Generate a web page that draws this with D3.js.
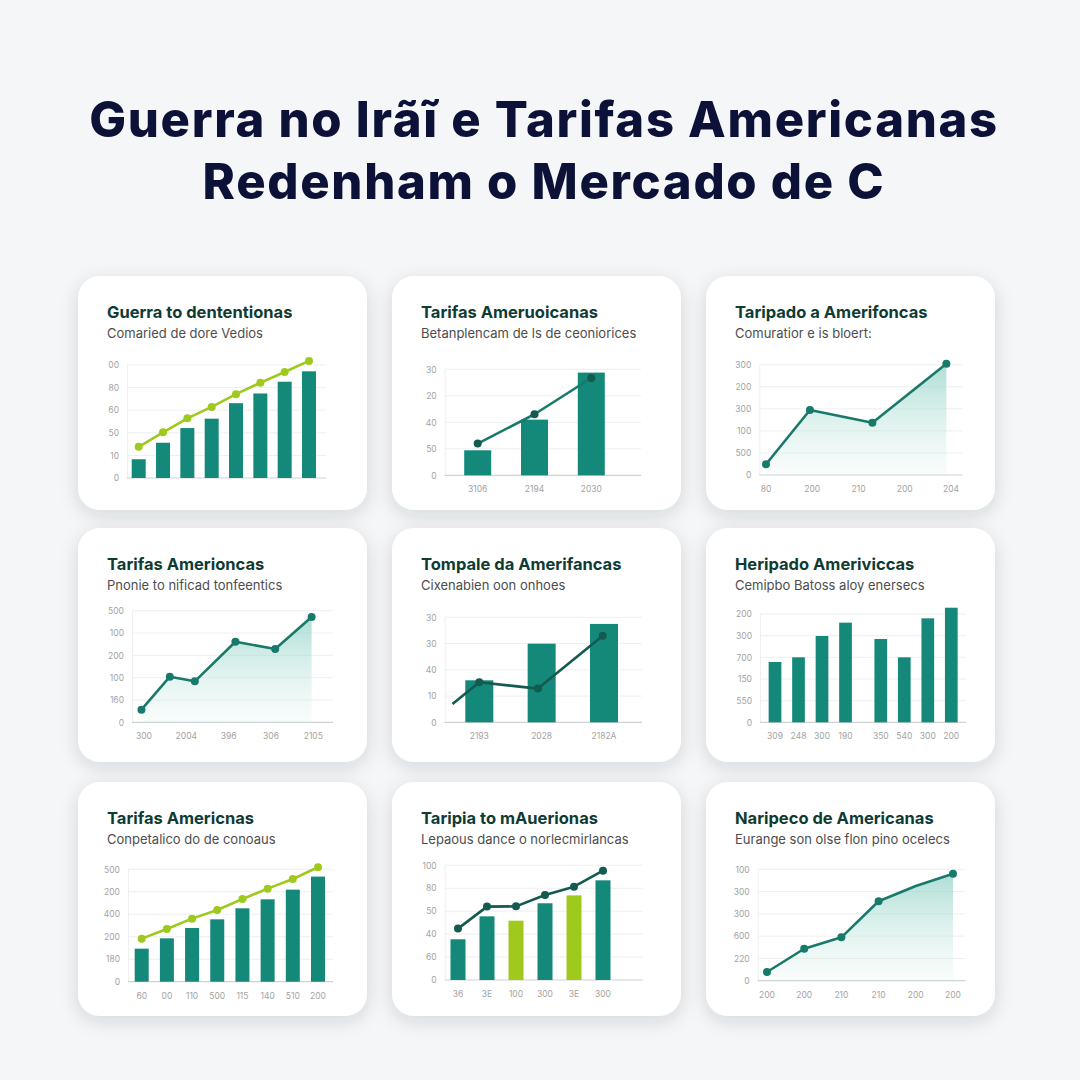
<!DOCTYPE html>
<html>
<head>
<meta charset="utf-8">
<script src="https://cdn.jsdelivr.net/npm/d3@7"></script>
<style>
  html, body { margin: 0; padding: 0; background: #f5f6f8; }
  svg { display: block; }
</style>
</head>
<body>
<div class="canvas"></div>
<script>
// ---- text ----
const titleLines = ['Guerra no Irãĩ e Tarifas Americanas', 'Redenham o Mercado de C'];

const panelTitles = [
  'Guerra to dententionas', 'Tarifas Ameruoicanas', 'Taripado a Amerifoncas',
  'Tarifas Amerioncas', 'Tompale da Amerifancas', 'Heripado Ameriviccas',
  'Tarifas Americnas', 'Taripia to mAuerionas', 'Naripeco de Americanas',
];
const panelSubtitles = [
  'Comaried de dore Vedios', 'Betanplencam de ls de ceoniorices', 'Comuratior e is bloert:',
  'Pnonie to nificad tonfeentics', 'Cixenabien oon onhoes', 'Cemipbo Batoss aloy enersecs',
  'Conpetalico do de conoaus', 'Lepaous dance o norlecmirlancas', 'Eurange son olse flon pino ocelecs',
];

// y tick labels, bottom -> top
const yTickLabels = [
  ['0', '10', '50', '60', '80', '00'],
  ['0', '50', '40', '20', '30'],
  ['0', '500', '100', '300', '200', '300'],
  ['0', '160', '100', '200', '100', '500'],
  ['0', '10', '40', '30', '30'],
  ['0', '550', '150', '700', '300', '200'],
  ['0', '180', '200', '400', '200', '500'],
  ['0', '60', '40', '50', '80', '100'],
  ['0', '220', '600', '300', '300', '100'],
];

const xTickLabels = [
  [],
  ['3106', '2194', '2030'],
  ['80', '200', '210', '200', '204'],
  ['300', '2004', '396', '306', '2105'],
  ['2193', '2028', '2182A'],
  ['309', '248', '300', '190', '350', '540', '300', '200'],
  ['60', '00', '110', '500', '115', '140', '510', '200'],
  ['36', '3E', '100', '300', '3E', '300'],
  ['200', '200', '210', '210', '200', '200'],
];

// ---- values ----
const p1Bars = [16.6, 31.2, 44.2, 52.5, 66.2, 74.8, 85.2, 94.4];
const p1Line = [27.6, 40.4, 52.8, 62.9, 74.2, 84.3, 93.8, 103.6];

const p2Bars = [23.6, 52.5, 96.9];
const p2Line = [29.9, 57.6, 91.8];

const p3X = [0, 0.95, 2.3, 3.9];
const p3Y = [9.7, 58.9, 47.4, 100.9];

const p4X = [-0.06, 0.61, 1.2, 2.16, 3.1, 3.96];
const p4Y = [11.3, 40.9, 36.7, 72.2, 65.7, 94.3];

const p5Bars = [40, 74.9, 93.7];
const p5LineX = [-0.43, 0, 0.94, 1.98];
const p5LineY = [17.5, 38.1, 32.1, 82.5];

const p6Slots = [0, 1, 2, 3, 4.5, 5.5, 6.5, 7.5];
const p6Bars = [55.7, 60, 79.7, 92, 76.9, 60, 96, 105.8];

const p7Bars = [29.4, 38.6, 47.8, 55.5, 65.3, 73.3, 81.9, 93.5];
const p7Line = [38.3, 46.9, 56.1, 63.8, 73.6, 82.8, 91.4, 101.8];

const p8Bars = [35.5, 55.5, 51.7, 66.9, 73.8, 86.9];
const p8Lime = [2, 4];
const p8Line = [44.8, 64, 64.2, 74.1, 81.4, 95.3];

const p9X = [0, 1, 2, 3, 4, 5];
const p9Y = [7.8, 28.7, 38.9, 71.3, 85, 96.1];

// ---- layout ----
const COLOR = {
  bg: '#f5f6f8',
  title: '#0c1138',
  cardTitle: '#0f3b33',
  sub: '#4d4d4d',
  tick: '#a3a3a3',
  grid: '#eeeff0',
  axis: '#cdd1d3',
  teal: '#14897a',
  lime: '#9fc91c',
  lineTeal: '#187a6b',
  lineDark: '#135a50',
};

const cardX = [78, 392, 706];
const cardY = [276, 528, 782];
const cardW = 289;
const cardH = 234;

// plot boxes relative to each card; x0/x1 = first/last slot centre
const boxes = [
  { l: 49, t: 89, r: 248, b: 202, x0: 60.7, x1: 231, bw: 14 },
  { l: 52.7, t: 93.3, r: 249, b: 199.3, x0: 85.7, x1: 199.3, bw: 27 },
  { l: 53.3, t: 88.7, r: 256.7, b: 199, x0: 60, x1: 245 },
  { l: 54, t: 82.7, r: 255, b: 194.3, x0: 66, x1: 235.3 },
  { l: 52.7, t: 89.3, r: 250, b: 194.3, x0: 87.3, x1: 212, bw: 28 },
  { l: 54, t: 86, r: 260, b: 194.3, x0: 69, x1: 245.3, bw: 12.7 },
  { l: 50, t: 87.3, r: 255, b: 199.7, x0: 63.7, x1: 240, bw: 14 },
  { l: 52.7, t: 83.3, r: 250.7, b: 198, x0: 66, x1: 211, bw: 15 },
  { l: 51.7, t: 87.3, r: 259.3, b: 198.7, x0: 61, x1: 247 },
];

const idx = arr => arr.map((d, i) => i);

const panels = [
  { bars: p1Bars, line: { x: idx(p1Line), y: p1Line, color: COLOR.lime, dot: COLOR.lime } },
  { bars: p2Bars, line: { x: idx(p2Line), y: p2Line, color: COLOR.lineTeal, dot: COLOR.lineDark } },
  { area: { x: p3X, y: p3Y } },
  { area: { x: p4X, y: p4Y } },
  { bars: p5Bars, line: { x: p5LineX, y: p5LineY, color: COLOR.lineDark, dot: COLOR.lineDark, skip: [0] } },
  { bars: p6Bars, slots: p6Slots },
  { bars: p7Bars, line: { x: idx(p7Line), y: p7Line, color: COLOR.lime, dot: COLOR.lime } },
  { bars: p8Bars, lime: p8Lime, line: { x: idx(p8Line), y: p8Line, color: COLOR.lineDark, dot: COLOR.lineDark } },
  { area: { x: p9X, y: p9Y, skip: [4] } },
];

const svg = d3
  .select('.canvas')
  .append('svg')
  .attr('width', 1080)
  .attr('height', 1080);

const defs = svg.append('defs');

const shadow = defs
  .append('filter')
  .attr('id', 'cardShadow')
  .attr('x', '-20%')
  .attr('y', '-20%')
  .attr('width', '140%')
  .attr('height', '150%');
shadow
  .append('feDropShadow')
  .attr('dx', 0)
  .attr('dy', 5)
  .attr('stdDeviation', 9)
  .attr('flood-color', '#1b2430')
  .attr('flood-opacity', 0.14);

const grad = defs
  .append('linearGradient')
  .attr('id', 'areaFill')
  .attr('x1', 0)
  .attr('y1', 0)
  .attr('x2', 0)
  .attr('y2', 1);
grad.append('stop').attr('offset', '0%').attr('stop-color', '#7ccabb').attr('stop-opacity', 0.62);
grad.append('stop').attr('offset', '100%').attr('stop-color', '#cdebe5').attr('stop-opacity', 0.12);

svg.append('rect').attr('width', 1080).attr('height', 1080).attr('fill', COLOR.bg);

svg
  .append('g')
  .attr('id', 'mainTitle')
  .selectAll('text')
  .data(titleLines)
  .join('text')
  .attr('x', 544)
  .attr('y', (d, i) => 137 + i * 62)
  .attr('text-anchor', 'middle')
  .attr('font-family', 'Inter, "Open Sans", sans-serif')
  .attr('font-weight', 800)
  .attr('font-size', 49)
  .attr('letter-spacing', 1.7)
  .attr('fill', COLOR.title)
  .text(d => d);

const drawPanel = (g, p, box, i) => {
  g.append('rect')
    .attr('width', cardW)
    .attr('height', cardH)
    .attr('rx', 22)
    .attr('fill', '#ffffff')
    .attr('filter', 'url(#cardShadow)');

  g.append('text')
    .attr('x', 29)
    .attr('y', 42)
    .attr('font-family', 'Inter, sans-serif')
    .attr('font-weight', 700)
    .attr('font-size', 16.5)
    .attr('fill', COLOR.cardTitle)
    .text(panelTitles[i]);

  g.append('text')
    .attr('x', 29)
    .attr('y', 62)
    .attr('font-family', 'Inter, sans-serif')
    .attr('font-size', 13)
    .attr('fill', COLOR.sub)
    .text(panelSubtitles[i]);

  const labels = yTickLabels[i];
  const ticks = labels.map((d, k) => (k * 100) / (labels.length - 1));
  const y = d3.scaleLinear().domain([0, 100]).range([box.b, box.t]);

  const maxSlot = p.slots ? d3.max(p.slots) : (p.bars ? p.bars.length - 1 : xTickLabels[i].length - 1);
  const x = d3.scaleLinear().domain([0, maxSlot]).range([box.x0, box.x1]);

  g.append('g')
    .selectAll('line')
    .data(ticks.slice(1))
    .join('line')
    .attr('x1', box.l)
    .attr('x2', box.r)
    .attr('y1', d => y(d))
    .attr('y2', d => y(d))
    .attr('stroke', COLOR.grid)
    .attr('stroke-width', 1);

  const yAxis = g
    .append('g')
    .attr('transform', `translate(${box.l},0)`)
    .call(
      d3
        .axisLeft(y)
        .tickValues(ticks)
        .tickSize(0)
        .tickPadding(8)
        .tickFormat((d, k) => labels[k])
    );
  yAxis.select('.domain').attr('stroke', COLOR.grid);
  yAxis
    .selectAll('text')
    .attr('font-family', 'Inter, sans-serif')
    .attr('font-size', 8.5)
    .attr('fill', COLOR.tick);

  g.append('line')
    .attr('x1', box.l)
    .attr('x2', box.r)
    .attr('y1', y(0))
    .attr('y2', y(0))
    .attr('stroke', COLOR.axis)
    .attr('stroke-width', 1.2);

  const xPos = p.slots ? p.slots : idx(xTickLabels[i]);
  g.append('g')
    .selectAll('text')
    .data(xTickLabels[i])
    .join('text')
    .attr('x', (d, k) => x(xPos[k]))
    .attr('y', y(0) + 17)
    .attr('text-anchor', 'middle')
    .attr('font-family', 'Inter, sans-serif')
    .attr('font-size', 8.5)
    .attr('fill', COLOR.tick)
    .text(d => d);

  if (p.bars) {
    const slots = p.slots || idx(p.bars);
    const lime = p.lime || [];
    g.append('g')
      .selectAll('rect')
      .data(p.bars)
      .join('rect')
      .attr('x', (d, k) => x(slots[k]) - box.bw / 2)
      .attr('y', d => y(d))
      .attr('width', box.bw)
      .attr('height', d => y(0) - y(d))
      .attr('fill', (d, k) => (lime.includes(k) ? COLOR.lime : COLOR.teal));
  }

  if (p.area) {
    const pts = p.area.x.map((v, k) => [v, p.area.y[k]]);
    const area = d3
      .area()
      .x(d => x(d[0]))
      .y0(y(0))
      .y1(d => y(d[1]));
    g.append('path').attr('d', area(pts)).attr('fill', 'url(#areaFill)');
    p.line = { x: p.area.x, y: p.area.y, color: COLOR.lineTeal, dot: COLOR.lineTeal, skip: p.area.skip };
  }

  if (p.line) {
    const pts = p.line.x.map((v, k) => [v, p.line.y[k]]);
    const skip = p.line.skip || [];
    const line = d3
      .line()
      .x(d => x(d[0]))
      .y(d => y(d[1]));
    g.append('path')
      .attr('d', line(pts))
      .attr('fill', 'none')
      .attr('stroke', p.line.color)
      .attr('stroke-width', 2.6)
      .attr('stroke-linejoin', 'round');
    g.append('g')
      .selectAll('circle')
      .data(pts.filter((d, k) => !skip.includes(k)))
      .join('circle')
      .attr('cx', d => x(d[0]))
      .attr('cy', d => y(d[1]))
      .attr('r', 4)
      .attr('fill', p.line.dot);
  }
};

const cards = svg.append('g').attr('id', 'cards');
panels.forEach((p, i) => {
  const g = cards
    .append('g')
    .attr('transform', `translate(${cardX[i % 3]},${cardY[Math.floor(i / 3)]})`);
  drawPanel(g, p, boxes[i], i);
});
</script>
</body>
</html>
